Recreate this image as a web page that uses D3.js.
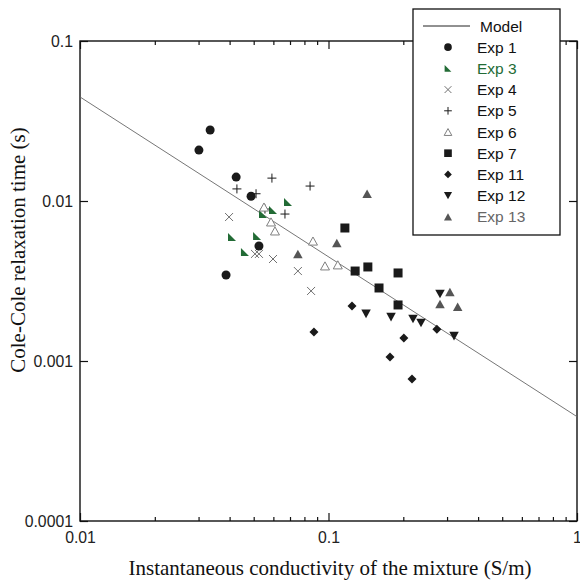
<!DOCTYPE html>
<html>
<head>
<meta charset="utf-8">
<script src="https://d3js.org/d3.v7.min.js"></script>
<style>
  body { margin: 0; background: #fff; }
  .tick text { font-family: "Liberation Sans", Arial, sans-serif; font-size: 15.8px; fill: #222; }
  .axis-title { font-family: "Liberation Serif", "Times New Roman", serif; font-size: 21px; fill: #111; }
  .legend text { font-family: "Liberation Sans", Arial, sans-serif; font-size: 15.5px; }
</style>
</head>
<body>
<div id="chart"></div>
<script>
// ---- data ----
var modelX = [0.01, 1];
var modelY = [0.0447, 0.000449];

var exp1X = [0.0301, 0.0334, 0.0425, 0.0488, 0.0525, 0.0387];
var exp1Y = [0.0208, 0.0278, 0.0141, 0.0107, 0.00523, 0.00345];

var exp3X = [0.0687, 0.0598, 0.0545, 0.0409, 0.0516, 0.0461];
var exp3Y = [0.00986, 0.00879, 0.00829, 0.00596, 0.00604, 0.0048];

var exp4X = [0.0398, 0.0506, 0.0525, 0.0598, 0.0753, 0.0851];
var exp4Y = [0.00794, 0.00467, 0.00467, 0.00434, 0.00365, 0.00274];

var exp5X = [0.0428, 0.0511, 0.0592, 0.0843, 0.0555, 0.0668];
var exp5Y = [0.0119, 0.0111, 0.0139, 0.0124, 0.00891, 0.00829];

var exp6X = [0.055, 0.0587, 0.0609, 0.0866, 0.0968, 0.109];
var exp6Y = [0.00917, 0.0074, 0.0065, 0.00562, 0.00393, 0.00399];

var exp7X = [0.1164, 0.128, 0.144, 0.1905, 0.1597, 0.1905];
var exp7Y = [0.00678, 0.00365, 0.00387, 0.00355, 0.00286, 0.00224];

var exp11X = [0.1243, 0.0874, 0.201, 0.273, 0.1768, 0.2168];
var exp11Y = [0.00221, 0.00152, 0.00139, 0.00158, 0.00106, 0.000772];

var exp12X = [0.1416, 0.1785, 0.2188, 0.2356, 0.32, 0.281];
var exp12Y = [0.00197, 0.00188, 0.00183, 0.00173, 0.00143, 0.00262];

var exp13X = [0.143, 0.108, 0.0753, 0.308, 0.281, 0.331];
var exp13Y = [0.0111, 0.00546, 0.00467, 0.0027, 0.00227, 0.00218];

var xMajor = [0.01, 0.1, 1];
var yMajor = [0.0001, 0.001, 0.01, 0.1];

// ---- layout ----
var width = 580, height = 582;
var plotL = 80, plotR = 577, plotT = 41, plotB = 521;

var svg = d3.select("#chart").append("svg")
  .attr("width", width).attr("height", height);

var x = d3.scaleLog().domain([0.01, 1]).range([plotL, plotR]);
var y = d3.scaleLog().domain([0.0001, 0.1]).range([plotB, plotT]);

var xMinor = [];
[0.01, 0.1].forEach(function(d){ for (var k = 2; k <= 9; k++) xMinor.push(d * k); });
var xTicks = xMajor.concat(xMinor);
function isMajor(d){ return xMajor.some(function(m){ return Math.abs(m - d) < 1e-9; }); }

// axes (ticks inward)
var gB = svg.append("g").attr("transform", "translate(0," + plotB + ")")
  .call(d3.axisBottom(x).tickValues(xTicks).tickSize(-4).tickPadding(11)
    .tickFormat(function(d){ return isMajor(d) ? String(d) : ""; }));
var gT = svg.append("g").attr("transform", "translate(0," + plotT + ")")
  .call(d3.axisTop(x).tickValues(xTicks).tickSize(-4).tickFormat(""));
[gB, gT].forEach(function(g){
  g.selectAll(".tick line").attr("y2", function(d){
    var s = +d3.select(this).attr("y2");
    return isMajor(d) ? s * 2 : s;
  });
});
var gL = svg.append("g").attr("transform", "translate(" + plotL + ",0)")
  .call(d3.axisLeft(y).tickValues(yMajor).tickSize(-8).tickPadding(7)
    .tickFormat(function(d){ return String(d); }));
var gR = svg.append("g").attr("transform", "translate(" + plotR + ",0)")
  .call(d3.axisRight(y).tickValues(yMajor).tickSize(-8).tickFormat(""));
svg.selectAll(".domain").remove();
svg.selectAll(".tick line").attr("stroke", "#111").attr("stroke-width", 1.2);
gL.selectAll(".tick text").attr("dy", "0.36em");

svg.append("rect")
  .attr("x", plotL).attr("y", plotT)
  .attr("width", plotR - plotL).attr("height", plotB - plotT)
  .attr("fill", "none").attr("stroke", "#111").attr("stroke-width", 1.4);

// axis titles
svg.append("text").attr("class", "axis-title")
  .attr("x", 330).attr("y", 575)
  .attr("text-anchor", "middle")
  .text("Instantaneous conductivity of the mixture (S/m)");
svg.append("text").attr("class", "axis-title")
  .attr("transform", "translate(25,250) rotate(-90)")
  .attr("text-anchor", "middle")
  .text("Cole-Cole relaxation time (s)");

// model line
var line = d3.line().x(function(d){ return x(d[0]); }).y(function(d){ return y(d[1]); });
svg.append("path")
  .datum(d3.zip(modelX, modelY))
  .attr("d", line)
  .attr("fill", "none").attr("stroke", "#666").attr("stroke-width", 0.9);

// marker shapes, centred on bounding box
function shape(type, s) {
  var h = s / 2;
  switch (type) {
    case "circle":
      return "M" + (-h) + ",0A" + h + "," + h + " 0 1,0 " + h + ",0A" + h + "," + h + " 0 1,0 " + (-h) + ",0Z";
    case "rtri":
      return "M" + (-h) + "," + (-h) + "L" + (-h) + "," + h + "L" + h + "," + h + "Z";
    case "cross":
      return "M" + (-h) + "," + (-h) + "L" + h + "," + h + "M" + (-h) + "," + h + "L" + h + "," + (-h);
    case "plus":
      return "M" + (-h) + ",0L" + h + ",0M0," + (-h) + "L0," + h;
    case "up":
      return "M0," + (-h * 0.9) + "L" + h + "," + (h * 0.9) + "L" + (-h) + "," + (h * 0.9) + "Z";
    case "down":
      return "M" + (-h) + "," + (-h * 0.9) + "L" + h + "," + (-h * 0.9) + "L0," + (h * 0.9) + "Z";
    case "square":
      return "M" + (-h) + "," + (-h) + "H" + h + "V" + h + "H" + (-h) + "Z";
    case "diamond":
      return "M0," + (-h) + "L" + h + ",0L0," + h + "L" + (-h) + ",0Z";
  }
}

var series = [
  { name: "Exp 1",  xs: exp1X,  ys: exp1Y,  type: "circle",  size: 9,   fill: "#1a1a1a", stroke: "none", text: "#111" },
  { name: "Exp 3",  xs: exp3X,  ys: exp3Y,  type: "rtri",    size: 8,   fill: "#226b35", stroke: "none", text: "#226b35" },
  { name: "Exp 4",  xs: exp4X,  ys: exp4Y,  type: "cross",   size: 8,   fill: "none",    stroke: "#707070", text: "#111" },
  { name: "Exp 5",  xs: exp5X,  ys: exp5Y,  type: "plus",    size: 9,   fill: "none",    stroke: "#1a1a1a", text: "#111" },
  { name: "Exp 6",  xs: exp6X,  ys: exp6Y,  type: "up",      size: 9,   fill: "#fff",    stroke: "#808080", text: "#111" },
  { name: "Exp 7",  xs: exp7X,  ys: exp7Y,  type: "square",  size: 9,   fill: "#1a1a1a", stroke: "none", text: "#111" },
  { name: "Exp 11", xs: exp11X, ys: exp11Y, type: "diamond", size: 9,   fill: "#1a1a1a", stroke: "none", text: "#111" },
  { name: "Exp 12", xs: exp12X, ys: exp12Y, type: "down",    size: 9.5, fill: "#1a1a1a", stroke: "none", text: "#111" },
  { name: "Exp 13", xs: exp13X, ys: exp13Y, type: "up",      size: 9.5, fill: "#555",    stroke: "none", text: "#666" }
];

series.forEach(function(s){
  svg.append("g").selectAll("path")
    .data(d3.zip(s.xs, s.ys))
    .enter().append("path")
    .attr("transform", function(d){ return "translate(" + x(d[0]) + "," + y(d[1]) + ")"; })
    .attr("d", shape(s.type, s.size))
    .attr("fill", s.fill)
    .attr("stroke", s.stroke)
    .attr("stroke-width", 1);
});

// legend
var lg = svg.append("g").attr("class", "legend");
lg.append("rect")
  .attr("x", 413).attr("y", 9).attr("width", 147).attr("height", 226)
  .attr("fill", "#fff").attr("stroke", "#111").attr("stroke-width", 1.3);
var rowY = function(i){ return 26 + i * 21.2; };
lg.append("line")
  .attr("x1", 423).attr("x2", 470).attr("y1", rowY(0)).attr("y2", rowY(0))
  .attr("stroke", "#222").attr("stroke-width", 1);
lg.append("text").attr("x", 480).attr("y", rowY(0) + 6).attr("fill", "#111").text("Model");
series.forEach(function(s, i){
  var cy = rowY(i + 1);
  lg.append("path")
    .attr("transform", "translate(448," + cy + ")")
    .attr("d", shape(s.type, s.size * 0.85))
    .attr("fill", s.fill).attr("stroke", s.stroke).attr("stroke-width", 1);
  lg.append("text").attr("x", 477).attr("y", cy + 5.5).attr("fill", s.text).text(s.name);
});
</script>
</body>
</html>
